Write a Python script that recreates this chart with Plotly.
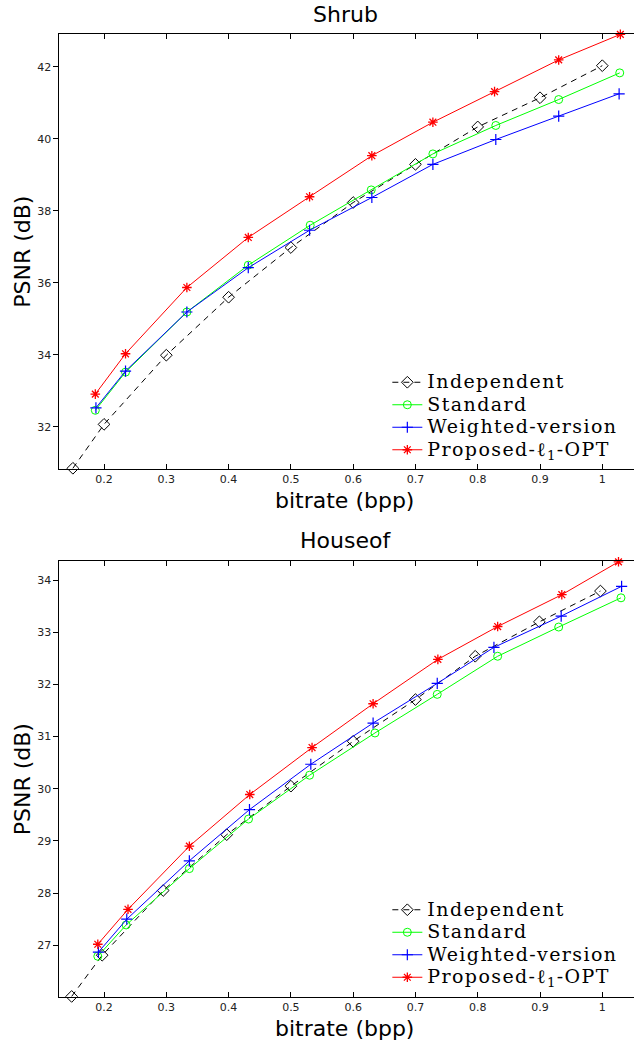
import plotly.graph_objects as go

# ---------------- data ----------------
# Shrub
shrub_ind_rate = [0.150, 0.200, 0.300, 0.400, 0.500, 0.600, 0.700, 0.800, 0.900, 1.000]
shrub_ind_psnr = [30.85, 32.07, 33.99, 35.60, 36.98, 38.23, 39.29, 40.33, 41.14, 42.03]
shrub_std_rate = [0.186, 0.2345, 0.333, 0.4316, 0.531, 0.629, 0.728, 0.829, 0.930, 1.028]
shrub_std_psnr = [32.46, 33.52, 35.19, 36.49, 37.60, 38.58, 39.58, 40.37, 41.09, 41.83]
shrub_wgt_rate = [0.187, 0.2345, 0.333, 0.4316, 0.530, 0.630, 0.728, 0.829, 0.930, 1.027]
shrub_wgt_psnr = [32.53, 33.55, 35.19, 36.42, 37.46, 38.37, 39.29, 39.98, 40.63, 41.25]
shrub_opt_rate = [0.186, 0.2345, 0.333, 0.4316, 0.530, 0.630, 0.728, 0.827, 0.930, 1.029]
shrub_opt_psnr = [32.91, 34.03, 35.87, 37.26, 38.39, 39.53, 40.46, 41.31, 42.19, 42.90]

# Houseof
house_ind_rate = [0.148, 0.197, 0.295, 0.397, 0.500, 0.600, 0.700, 0.796, 0.899, 0.997]
house_ind_psnr = [26.02, 26.81, 28.05, 29.12, 30.05, 30.91, 31.71, 32.54, 33.20, 33.79]
house_std_rate = [0.190, 0.2355, 0.337, 0.432, 0.530, 0.635, 0.735, 0.832, 0.930, 1.030]
house_std_psnr = [26.79, 27.39, 28.47, 29.42, 30.26, 31.07, 31.81, 32.54, 33.10, 33.66]
house_wgt_rate = [0.191, 0.2365, 0.337, 0.4335, 0.532, 0.632, 0.735, 0.826, 0.934, 1.031]
house_wgt_psnr = [26.87, 27.50, 28.62, 29.60, 30.47, 31.26, 32.02, 32.71, 33.31, 33.88]
house_opt_rate = [0.190, 0.2385, 0.337, 0.434, 0.534, 0.632, 0.736, 0.832, 0.935, 1.026]
house_opt_psnr = [27.02, 27.69, 28.90, 29.89, 30.79, 31.63, 32.48, 33.11, 33.72, 34.35]

series_names = ["Independent", "Standard", "Weighted-version", "Proposed-ℓ<sub>1</sub>-OPT"]
titles = ["Shrub", "Houseof"]
x_label = "bitrate (bpp)"
y_label = "PSNR (dB)"
x_tickvals = [0.2, 0.3, 0.4, 0.5, 0.6, 0.7, 0.8, 0.9, 1.0]
x_ticktext = ["0.2", "0.3", "0.4", "0.5", "0.6", "0.7", "0.8", "0.9", "1"]
shrub_yticks = [32, 34, 36, 38, 40, 42]
house_yticks = [27, 28, 29, 30, 31, 32, 33, 34]

# ---------------- styles ----------------
H = 1047.0
W = 640.0   # figure slightly wider than the 634 px window: right spine falls off-screen
def py(p):
    return 1 - p / H

styles = [
    dict(line=dict(color="black", width=1, dash="6px,5px"),
         marker=dict(symbol="diamond-open", size=9, color="black", line=dict(width=1))),
    dict(line=dict(color="#00ff00", width=1),
         marker=dict(symbol="circle-open", size=8, color="#00ff00", line=dict(width=1))),
    dict(line=dict(color="#0000ff", width=1),
         marker=dict(symbol="cross-thin-open", size=8, color="#0000ff", line=dict(width=1.2))),
    dict(line=dict(color="#ff0000", width=1),
         marker=dict(symbol="asterisk-open", size=8, color="#ff0000", line=dict(width=1.3))),
]

fig = go.Figure()

panels = [
    ("x", "y", "legend",
     [(shrub_ind_rate, shrub_ind_psnr), (shrub_std_rate, shrub_std_psnr),
      (shrub_wgt_rate, shrub_wgt_psnr), (shrub_opt_rate, shrub_opt_psnr)]),
    ("x2", "y2", "legend2",
     [(house_ind_rate, house_ind_psnr), (house_std_rate, house_std_psnr),
      (house_wgt_rate, house_wgt_psnr), (house_opt_rate, house_opt_psnr)]),
]

for xa, ya, leg, data in panels:
    for (xs, ys), name, st in zip(data, series_names, styles):
        fig.add_trace(go.Scatter(
            x=xs, y=ys, mode="lines+markers",
            name='<span style="font-size:19px;letter-spacing:1.4px">' + name + "</span>",
            line=st["line"], marker=st["marker"],
            xaxis=xa, yaxis=ya, legend=leg, cliponaxis=False,
        ))

axis_common = dict(
    showgrid=False, zeroline=False, showline=True, linecolor="black", linewidth=1,
    mirror="ticks", tickcolor="black", tickwidth=1,
    tickfont=dict(family="DejaVu Sans", size=11, color="#222222"),
)

x_dom = [60 / W, 1.0]
x_rng = [0.1284, 1.0509]

legend_font = dict(family="DejaVu Serif", size=15, color="black")

fig.update_layout(
    width=int(W), height=int(H),
    margin=dict(l=0, r=0, t=0, b=0),
    paper_bgcolor="white", plot_bgcolor="white",
    showlegend=True,
    xaxis=dict(domain=x_dom, range=x_rng, anchor="y", ticks="inside", ticklen=5,
               tickvals=x_tickvals, ticktext=x_ticktext, **axis_common),
    yaxis=dict(domain=[py(469), py(34)], range=[30.83, 42.91], anchor="x",
               ticks="outside", ticklen=5, tickvals=shrub_yticks, **axis_common),
    xaxis2=dict(domain=x_dom, range=x_rng, anchor="y2", ticks="inside", ticklen=5,
                tickvals=x_tickvals, ticktext=x_ticktext, **axis_common),
    yaxis2=dict(domain=[py(996.7), py(561.3)], range=[26.015, 34.36], anchor="x2",
                ticks="outside", ticklen=5, tickvals=house_yticks, **axis_common),
    legend=dict(x=391 / W, y=py(366), xanchor="left", yanchor="top",
                bgcolor="rgba(0,0,0,0)", borderwidth=0, font=legend_font),
    legend2=dict(x=391 / W, y=py(893.5), xanchor="left", yanchor="top",
                 bgcolor="rgba(0,0,0,0)", borderwidth=0, font=legend_font),
)

title_font = dict(family="DejaVu Sans", size=22, color="black")
label_font = dict(family="DejaVu Sans", size=22, color="black")

annotations = [
    dict(text=titles[0], x=349 / W, y=py(14), xref="paper", yref="paper",
         showarrow=False, xanchor="center", yanchor="middle", font=title_font),
    dict(text=titles[1], x=349 / W, y=py(540), xref="paper", yref="paper",
         showarrow=False, xanchor="center", yanchor="middle", font=title_font),
    dict(text=x_label, x=348 / W, y=py(500), xref="paper", yref="paper",
         showarrow=False, xanchor="center", yanchor="middle", font=label_font),
    dict(text=x_label, x=348 / W, y=py(1028), xref="paper", yref="paper",
         showarrow=False, xanchor="center", yanchor="middle", font=label_font),
    dict(text=y_label, x=22.5 / W, y=py(251.5), xref="paper", yref="paper",
         showarrow=False, xanchor="center", yanchor="middle", textangle=-90, font=label_font),
    dict(text=y_label, x=22.5 / W, y=py(779), xref="paper", yref="paper",
         showarrow=False, xanchor="center", yanchor="middle", textangle=-90, font=label_font),
]
fig.update_layout(annotations=annotations)

fig.write_html(
    "out.html",
    config={"displayModeBar": False},
    post_script="document.body.style.margin='0';document.body.style.padding='0';"
                "document.body.style.overflow='hidden';",
)
